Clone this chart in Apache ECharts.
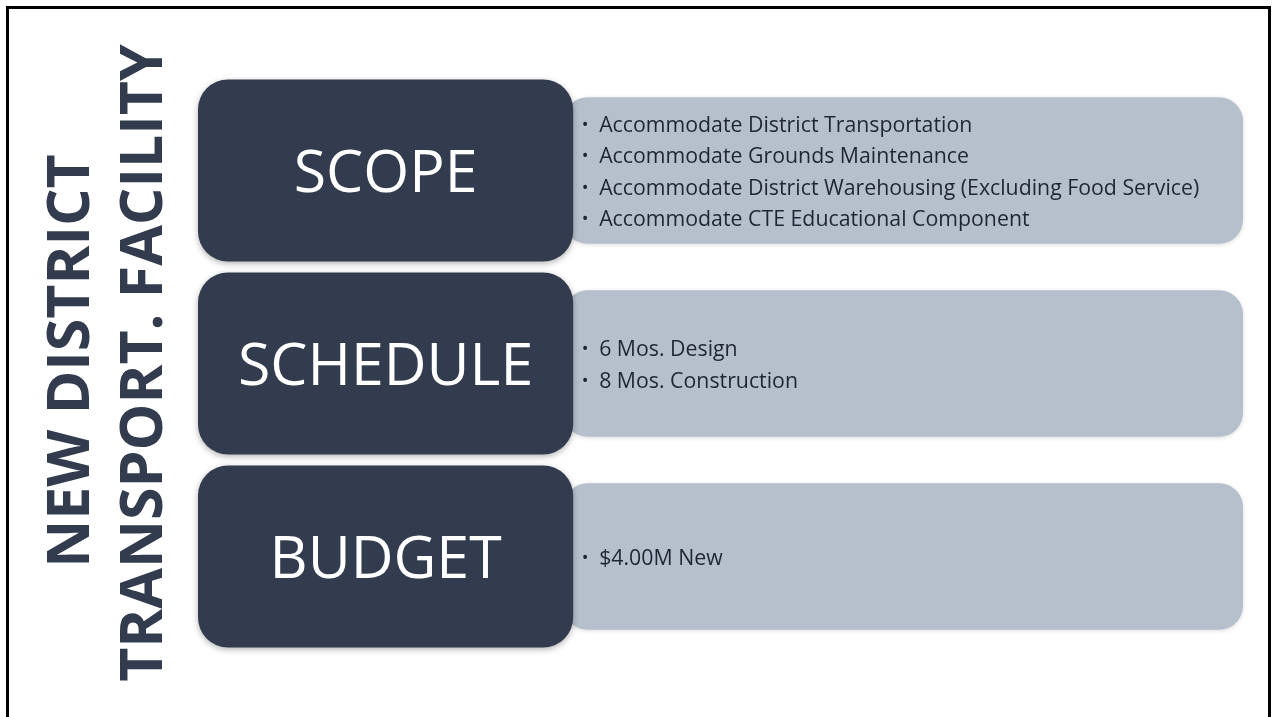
<!DOCTYPE html>
<html>
<head>
<meta charset="utf-8">
<title>New District Transport. Facility</title>
<script src="https://cdn.jsdelivr.net/npm/echarts@6/dist/echarts.min.js"></script>
<style>
  html, body { margin: 0; padding: 0; background: #fff; }
  #main { width: 1275px; height: 717px; }
</style>
</head>
<body>
<div id="main"></div>
<script>
var titleLines = ['NEW DISTRICT', 'TRANSPORT. FACILITY']
var sections = ['SCOPE', 'SCHEDULE', 'BUDGET']
var scopeItems = [
  'Accommodate District Transportation',
  'Accommodate Grounds Maintenance',
  'Accommodate District Warehousing (Excluding Food Service)',
  'Accommodate CTE Educational Component'
]
var scheduleItems = ['6 Mos. Design', '8 Mos. Construction']
var budgetItems = ['$4.00M New']
var sectionItems = [scopeItems, scheduleItems, budgetItems]

var DARK = '#323c4e'
var LIGHT = '#b6c0cd'
var FONT = '"Open Sans", "Noto Sans", sans-serif'

var chart = echarts.init(document.getElementById('main'))

// one row = dark header box + light bullet box behind it
function renderSection(params, api) {
  var idx = api.value(0)
  var pos = api.coord([0, idx])
  var size = api.size([1, 1])
  var left = pos[0]
  var cy = pos[1]
  var fullW = size[0]
  var band = size[1]

  var darkW = fullW * 0.359
  var darkH = band * 0.943
  var lightX = left + fullW * 0.35
  var lightH = band * 0.76
  var darkRight = left + darkW

  var children = [
    {
      type: 'rect',
      shape: { x: lightX, y: cy - lightH / 2, width: left + fullW - lightX, height: lightH, r: 24 },
      style: { fill: LIGHT, shadowBlur: 4, shadowColor: 'rgba(0,0,0,0.15)', shadowOffsetY: 1 }
    },
    {
      type: 'rect',
      shape: { x: left, y: cy - darkH / 2, width: darkW, height: darkH, r: 30 },
      style: { fill: DARK, shadowBlur: 6, shadowColor: 'rgba(0,0,0,0.3)', shadowOffsetY: 2 }
    },
    {
      type: 'text',
      style: {
        text: sections[idx],
        x: left + darkW / 2,
        y: cy + 5,
        fill: '#ffffff',
        fontSize: 59,
        fontFamily: FONT,
        align: 'center',
        verticalAlign: 'middle'
      }
    }
  ]

  var items = sectionItems[idx]
  var lineH = 31.3
  items.forEach(function (item, i) {
    var y = cy + 2.5 + (i - (items.length - 1) / 2) * lineH
    children.push({
      type: 'text',
      style: {
        text: '\u2022', x: darkRight + 12, y: y, fill: '#1f2633',
        fontSize: 18, fontFamily: FONT, align: 'center', verticalAlign: 'middle'
      }
    })
    children.push({
      type: 'text',
      style: {
        text: item, x: darkRight + 26, y: y, fill: '#1f2633',
        fontSize: 21.3, fontFamily: FONT, align: 'left', verticalAlign: 'middle'
      }
    })
  })

  return { type: 'group', children: children }
}

var option = {
  backgroundColor: '#ffffff',
  animation: false,
  grid: { left: 198, right: 32, top: 74, bottom: 64 },
  xAxis: { type: 'value', min: 0, max: 1, show: false },
  yAxis: { type: 'category', data: sections, inverse: true, show: false },
  graphic: [
    {
      type: 'rect',
      shape: { x: 7.5, y: 7.5, width: 1262, height: 720 },
      style: { fill: 'none', stroke: '#000', lineWidth: 3 }
    },
    {
      type: 'text',
      x: 72, y: 361, rotation: Math.PI / 2,
      style: {
        text: titleLines[0], fill: DARK, fontSize: 59, fontWeight: 'bold',
        fontFamily: FONT, align: 'center', verticalAlign: 'middle'
      }
    },
    {
      type: 'text',
      x: 145, y: 363, rotation: Math.PI / 2,
      style: {
        text: titleLines[1], fill: DARK, fontSize: 59, fontWeight: 'bold',
        fontFamily: FONT, align: 'center', verticalAlign: 'middle'
      }
    }
  ],
  series: [
    {
      type: 'custom',
      renderItem: renderSection,
      encode: { y: 0 },
      data: sections.map(function (s, i) { return [i] })
    }
  ]
}
chart.setOption(option)
</script>
</body>
</html>
